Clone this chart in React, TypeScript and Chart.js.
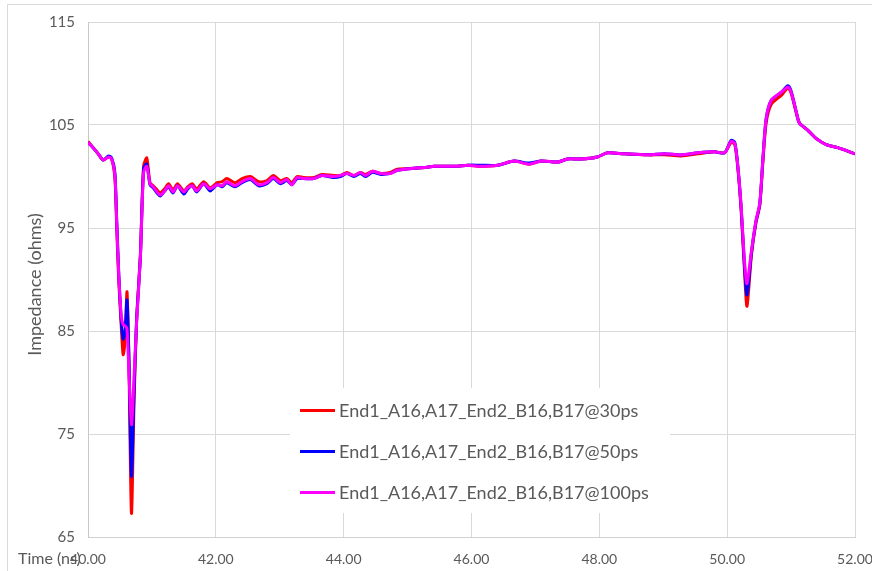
import React, { useEffect, useRef } from "react";
import { Chart, registerables } from "chart.js";

Chart.register(...registerables);

const times = [
  40.0, 40.08, 40.16, 40.24, 40.32, 40.37, 40.42, 40.45, 40.48, 40.52, 40.55, 40.58, 40.61, 40.64, 40.68,
  40.72, 40.76, 40.82, 40.87, 40.92, 40.97, 41.02, 41.08, 41.13, 41.2, 41.26, 41.33, 41.4, 41.5, 41.56,
  41.63, 41.7, 41.81, 41.91, 42.02, 42.1, 42.17, 42.3, 42.41, 42.54, 42.67, 42.8, 42.9, 43.01, 43.11,
  43.19, 43.27, 43.37, 43.53, 43.66, 43.84, 43.95, 44.05, 44.16, 44.26, 44.34, 44.45, 44.58, 44.73, 44.84,
  45.1, 45.31, 45.41, 45.62, 45.78, 45.94, 46.14, 46.41, 46.67, 46.9, 47.09, 47.35, 47.5, 47.71, 47.97,
  48.13, 48.39, 48.76, 49.02, 49.28, 49.54, 49.8, 49.96, 50.06, 50.12, 50.17, 50.22, 50.27, 50.31, 50.38,
  50.45, 50.51, 50.56, 50.61, 50.69, 50.85, 50.95, 51.0, 51.08, 51.13, 51.26, 51.39, 51.55, 51.73, 52.0,
];

const imp30ps = [
  103.4, 102.8, 102.2, 101.6, 101.9, 101.7, 100.0, 95.0, 90.0, 85.5, 82.7, 84.0, 88.8, 82.0, 67.3,
  78.0, 86.0, 92.5, 101.0, 101.8, 99.4, 99.1, 98.7, 98.4, 98.8, 99.3, 98.7, 99.3, 98.6, 99.0,
  99.3, 98.8, 99.5, 98.9, 99.4, 99.5, 99.8, 99.4, 99.8, 100.0, 99.5, 99.6, 100.1, 99.6, 99.8,
  99.4, 100.0, 99.9, 99.9, 100.2, 100.1, 100.1, 100.4, 100.1, 100.4, 100.2, 100.5, 100.3, 100.4, 100.7,
  100.8, 100.9, 101.0, 101.0, 101.0, 101.1, 101.0, 101.1, 101.5, 101.2, 101.5, 101.4, 101.7, 101.7, 101.9,
  102.3, 102.2, 102.1, 102.1, 102.0, 102.2, 102.4, 102.3, 103.3, 103.1, 100.6, 96.6, 91.0, 87.4, 92.4,
  95.5, 97.2, 101.5, 105.2, 107.0, 107.9, 108.6, 108.1, 106.2, 105.2, 104.5, 103.7, 103.1, 102.8, 102.2,
];

const imp50ps = [
  103.3, 102.8, 102.2, 101.6, 102.0, 101.8, 100.4, 95.6, 90.8, 86.0, 84.2, 85.0, 88.0, 82.5, 70.9,
  79.0, 86.0, 92.3, 100.8, 101.2, 99.2, 98.9, 98.4, 98.1, 98.6, 99.0, 98.4, 99.1, 98.3, 98.8,
  99.1, 98.5, 99.3, 98.6, 99.2, 99.0, 99.4, 99.0, 99.4, 99.7, 99.1, 99.3, 99.8, 99.3, 99.6,
  99.2, 99.8, 99.8, 99.8, 100.1, 99.9, 100.0, 100.3, 100.0, 100.3, 100.0, 100.4, 100.2, 100.3, 100.6,
  100.8, 100.9, 101.0, 101.0, 101.0, 101.1, 101.1, 101.1, 101.5, 101.3, 101.5, 101.4, 101.7, 101.7, 101.9,
  102.3, 102.2, 102.1, 102.2, 102.1, 102.3, 102.4, 102.3, 103.5, 103.3, 100.8, 96.8, 91.4, 88.5, 92.6,
  95.6, 97.3, 101.8, 105.6, 107.4, 108.2, 108.8, 108.3, 106.3, 105.2, 104.5, 103.7, 103.1, 102.8, 102.2,
];

const imp100ps = [
  103.3, 102.8, 102.2, 101.6, 101.9, 101.7, 100.2, 95.4, 90.6, 86.5, 85.6, 85.5, 85.2, 81.0, 75.9,
  80.5, 85.8, 92.2, 100.4, 101.0, 99.3, 99.0, 98.5, 98.2, 98.6, 99.1, 98.5, 99.1, 98.5, 98.9,
  99.1, 98.6, 99.3, 98.8, 99.2, 99.1, 99.5, 99.1, 99.5, 99.8, 99.2, 99.4, 99.9, 99.4, 99.7,
  99.2, 99.9, 99.8, 99.8, 100.1, 100.0, 100.1, 100.3, 100.1, 100.4, 100.1, 100.5, 100.3, 100.3, 100.6,
  100.8, 100.9, 101.0, 101.0, 101.0, 101.1, 101.0, 101.1, 101.5, 101.2, 101.5, 101.4, 101.7, 101.7, 101.9,
  102.3, 102.2, 102.1, 102.2, 102.1, 102.3, 102.4, 102.3, 103.4, 103.2, 100.8, 97.0, 91.9, 89.6, 92.8,
  95.7, 97.4, 101.8, 105.6, 107.4, 108.2, 108.7, 108.2, 106.3, 105.2, 104.5, 103.7, 103.1, 102.8, 102.2,
];

const seriesLabels = [
  "End1_A16,A17_End2_B16,B17@30ps",
  "End1_A16,A17_End2_B16,B17@50ps",
  "End1_A16,A17_End2_B16,B17@100ps",
];
const seriesColors = ["#FF0000", "#0000FF", "#FF00FF"];
const seriesValues = [imp30ps, imp50ps, imp100ps];

const xTitle = "Time (ns)";
const yTitle = "Impedance (ohms)";
const FONT = "Lato, 'Noto Sans', sans-serif";
const TEXT = "#595959";

const decorPlugin = {
  id: "decor",
  beforeDraw(chart: any) {
    const ctx = chart.ctx;
    ctx.save();
    ctx.strokeStyle = "#d9d9d9";
    ctx.lineWidth = 1;
    ctx.beginPath();
    ctx.moveTo(7.5, chart.height);
    ctx.lineTo(7.5, 4.5);
    ctx.lineTo(chart.width, 4.5);
    ctx.stroke();
    ctx.restore();
  },
  afterDraw(chart: any) {
    const ctx = chart.ctx;
    const area = chart.chartArea;
    ctx.save();
    // legend
    const lx = 290, ly = 388, lw = 380, lh = 125;
    ctx.fillStyle = "#ffffff";
    ctx.fillRect(lx, ly, lw, lh);
    chart.data.datasets.forEach((ds: any, i: number) => {
      const y = 410.5 + i * 41;
      ctx.strokeStyle = ds.borderColor;
      ctx.lineWidth = 3;
      ctx.beginPath();
      ctx.moveTo(300, y);
      ctx.lineTo(335, y);
      ctx.stroke();
      ctx.fillStyle = TEXT;
      ctx.font = `18px ${FONT}`;
      ctx.textAlign = "left";
      ctx.textBaseline = "middle";
      ctx.fillText(ds.label, 339, y + 1);
    });
    // axis titles
    ctx.fillStyle = TEXT;
    ctx.font = `16px ${FONT}`;
    ctx.textAlign = "left";
    ctx.textBaseline = "middle";
    ctx.fillText(xTitle, area.left - 70, 559);
    ctx.translate(35, (area.top + area.bottom) / 2 + 5);
    ctx.rotate(-Math.PI / 2);
    ctx.font = `18px ${FONT}`;
    ctx.textAlign = "center";
    ctx.fillText(yTitle, 0, 0);
    ctx.restore();
  },
};

export default function App() {
  const ref = useRef<HTMLCanvasElement | null>(null);
  useEffect(() => {
    if (!ref.current) return;
    const datasets = seriesValues.map((vals, i) => ({
      label: seriesLabels[i],
      data: times.map((t, j) => ({ x: t, y: vals[j] })),
      borderColor: seriesColors[i],
      backgroundColor: seriesColors[i],
      borderWidth: 3,
      pointRadius: 0,
      tension: 0.25,
      order: 3 - i,
    }));
    const chart = new Chart(ref.current, {
      type: "line",
      data: { datasets },
      options: {
        animation: false,
        responsive: false,
        layout: { padding: { top: 14, right: 0, left: 0, bottom: 0 } },
        plugins: { legend: { display: false }, tooltip: { enabled: false } },
        scales: {
          x: {
            type: "linear",
            min: 40,
            max: 52,
            afterFit: (s: any) => {
              s.height = 34;
              s.paddingRight = 17;
              s.paddingLeft = 0;
            },
            ticks: {
              stepSize: 2,
              padding: 14,
              color: TEXT,
              font: { family: FONT, size: 14 },
              maxRotation: 0,
              callback: (v: any) => Number(v).toFixed(2),
            },
            grid: { color: "#d9d9d9", lineWidth: 1, drawTicks: false },
            border: { color: "#d0d0d0" },
          },
          y: {
            min: 65,
            max: 115,
            afterFit: (s: any) => {
              s.width = 88;
            },
            ticks: {
              stepSize: 10,
              padding: 13,
              color: TEXT,
              font: { family: FONT, size: 15 },
            },
            grid: { color: "#d9d9d9", lineWidth: 1, drawTicks: false },
            border: { color: "#c8c8c8" },
          },
        },
      },
      plugins: [decorPlugin],
    });
    return () => chart.destroy();
  }, []);
  return (
    <div style={{ position: "absolute", left: 0, top: 0, width: 872, height: 571, background: "#fff" }}>
      <canvas ref={ref} width={872} height={571} style={{ width: 872, height: 571 }} />
    </div>
  );
}
